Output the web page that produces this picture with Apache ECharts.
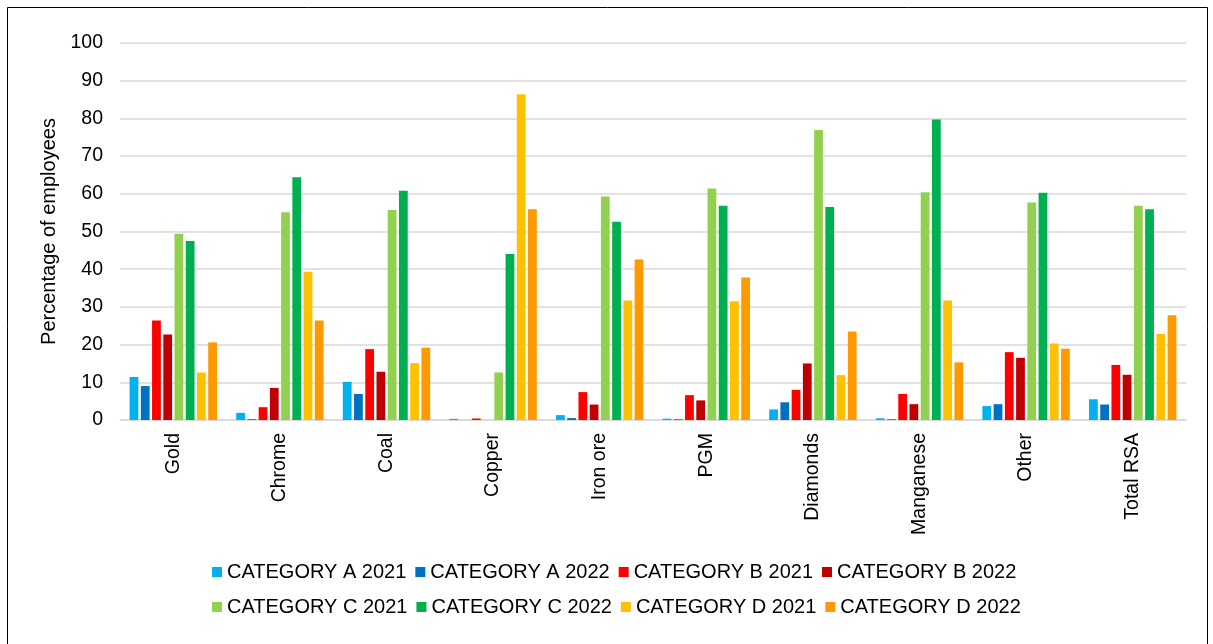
<!DOCTYPE html>
<html>
<head>
<meta charset="utf-8">
<script src="https://cdn.jsdelivr.net/npm/echarts@6/dist/echarts.min.js"></script>
<style>
  html, body { margin: 0; padding: 0; background: #fff; }
  #chart { width: 1213px; height: 644px; }
</style>
</head>
<body>
<div id="chart"></div>
<script>
// Share of employees per commodity, by category and year (%)
const categories = ['Gold', 'Chrome', 'Coal', 'Copper', 'Iron ore', 'PGM', 'Diamonds', 'Manganese', 'Other', 'Total RSA'];

const catA2021 = [11.4, 1.9, 10.1, 0.3, 1.3, 0.35, 2.8, 0.45, 3.7, 5.5];
const catA2022 = [9.0, 0.2, 6.9, 0, 0.5, 0.2, 4.7, 0.2, 4.2, 4.1];
const catB2021 = [26.4, 3.4, 18.8, 0.4, 7.4, 6.6, 8.0, 6.9, 18.0, 14.6];
const catB2022 = [22.7, 8.5, 12.8, 0, 4.1, 5.2, 15.0, 4.2, 16.5, 12.0];
const catC2021 = [49.4, 55.1, 55.7, 12.6, 59.3, 61.4, 76.9, 60.4, 57.7, 56.8];
const catC2022 = [47.5, 64.4, 60.8, 44.0, 52.6, 56.8, 56.5, 79.7, 60.3, 55.9];
const catD2021 = [12.6, 39.3, 15.1, 86.4, 31.7, 31.5, 11.9, 31.7, 20.3, 22.8];
const catD2022 = [20.6, 26.4, 19.2, 55.9, 42.6, 37.8, 23.5, 15.3, 18.9, 27.8];

const yTicks = { min: 0, max: 100, interval: 10 };

const seriesDefs = [
  { name: 'CATEGORY A 2021', data: catA2021, color: '#00B0F0' },
  { name: 'CATEGORY A 2022', data: catA2022, color: '#0070C0' },
  { name: 'CATEGORY B 2021', data: catB2021, color: '#FF0000' },
  { name: 'CATEGORY B 2022', data: catB2022, color: '#C00000' },
  { name: 'CATEGORY C 2021', data: catC2021, color: '#92D050' },
  { name: 'CATEGORY C 2022', data: catC2022, color: '#00B050' },
  { name: 'CATEGORY D 2021', data: catD2021, color: '#FFC000' },
  { name: 'CATEGORY D 2022', data: catD2022, color: '#FF9900' }
];

const FONT = 'Liberation Sans, Arial, sans-serif';

const legendBase = {
  orient: 'horizontal',
  left: 212,
  padding: 0,
  icon: 'rect',
  itemWidth: 10,
  itemHeight: 10,
  itemGap: 9,
  textStyle: { fontFamily: FONT, fontSize: 20, color: '#000' }
};

const chart = echarts.init(document.getElementById('chart'), null, { renderer: 'canvas' });

chart.setOption({
  backgroundColor: '#fff',
  animation: false,
  color: seriesDefs.map(s => s.color),
  graphic: [{
    type: 'rect',
    silent: true,
    shape: { x: 7.5, y: 7.5, width: 1200, height: 700 },
    style: { fill: 'none', stroke: '#000', lineWidth: 1 }
  }],
  legend: [
    Object.assign({}, legendBase, { top: 562, data: seriesDefs.slice(0, 4).map(s => s.name) }),
    Object.assign({}, legendBase, { top: 597, data: seriesDefs.slice(4).map(s => s.name) })
  ],
  grid: { left: 120, right: 27, top: 43, bottom: 224, containLabel: false },
  xAxis: {
    type: 'category',
    data: categories,
    axisLine: { show: true, lineStyle: { color: '#D9D9D9', width: 1.5 } },
    axisTick: { show: false },
    axisLabel: {
      rotate: 90,
      margin: 13,
      interval: 0,
      fontFamily: FONT,
      fontSize: 19.5,
      color: '#000'
    }
  },
  yAxis: {
    type: 'value',
    min: yTicks.min,
    max: yTicks.max,
    interval: yTicks.interval,
    name: 'Percentage of employees',
    nameLocation: 'middle',
    nameRotate: 90,
    nameGap: 55,
    nameTextStyle: { fontFamily: FONT, fontSize: 20, color: '#000' },
    axisLine: { show: false },
    axisTick: { show: false },
    splitLine: { lineStyle: { color: '#D9D9D9', width: 1.5 } },
    axisLabel: { margin: 17, fontFamily: FONT, fontSize: 19.5, color: '#000' }
  },
  series: seriesDefs.map(s => ({
    name: s.name,
    type: 'bar',
    data: s.data,
    barGap: '28%',
    barCategoryGap: '18%',
    itemStyle: { color: s.color }
  }))
});
</script>
</body>
</html>
